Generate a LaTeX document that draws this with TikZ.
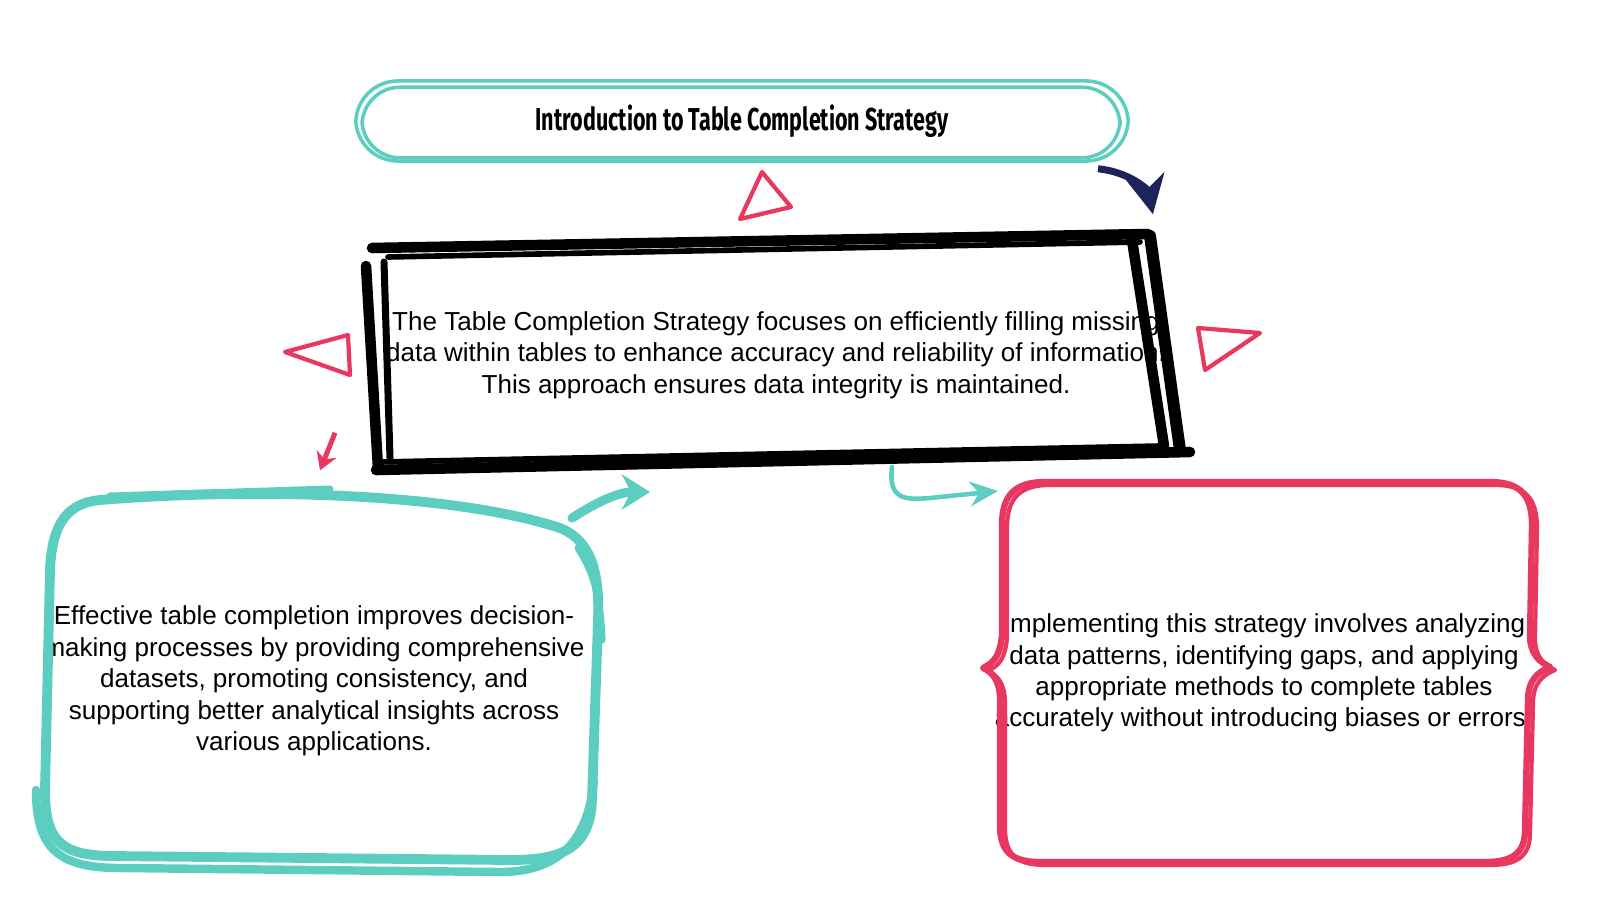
\documentclass[tikz,border=0pt]{standalone}
\usepackage{fontspec}
\setmainfont{Liberation Sans}
\newfontfamily\titlefont{Fira Sans}
\usetikzlibrary{arrows.meta,calc}
\definecolor{teal}{RGB}{92,206,192}
\definecolor{rose}{RGB}{232,56,95}
\definecolor{navy}{RGB}{30,36,90}
\tikzset{
  body/.style={align=center, font=\fontsize{7.4}{8.94}\selectfont, inner sep=0pt},
  tealline/.style={draw=teal, line cap=round, line join=round},
  roseline/.style={draw=rose, line cap=round, line join=round},
  inkline/.style={draw=black, line width=3pt, line cap=round, line join=round},
  pointer/.style={rose, line width=1.2pt, line join=round}
}
\begin{document}
\begin{tikzpicture}[x=0.01cm, y=-0.01cm]
    \useasboundingbox (0,0) rectangle (1600,900);

    % title pill
    \node [tealline, line width=1pt, rounded corners=0.42cm, minimum width=7.72cm,
           minimum height=0.8cm] (title) at (742,121)
        {\scalebox{0.68}[1]{\titlefont\bfseries\fontsize{9}{11}\selectfont Introduction to Table Completion Strategy}};
    \draw [tealline, line width=1pt, rounded corners=0.38cm]
        ($(title.south west)+(8,-5)$) rectangle ($(title.north east)+(-10,8)$);

    % main box text, border drawn over it
    \node [body, minimum width=7.9cm, minimum height=2.2cm] (core) at (776,355)
        {The Table Completion Strategy focuses on efficiently filling missing\\
         data within tables to enhance accuracy and reliability of information.\\
         This approach ensures data integrity is maintained.};
    \draw [inkline] (372,248) -- (1148,234);            % top
    \draw [inkline, line width=1.6pt] (388,257) -- (1140,242);
    \draw [inkline] (366,266) -- (378,468);             % left
    \draw [inkline, line width=2pt] (384,262) -- (390,458);
    \draw [inkline] (1132,240) -- (1164,446);           % right
    \draw [inkline, line width=3.4pt] (1150,236) -- (1180,450);
    \draw [inkline] (376,470) -- (1190,452);            % bottom
    \draw [inkline, line width=1.6pt] (380,462) -- (1160,446);

    % lower left box
    \node [body] (benefit) at (314,681)
        {Effective table completion improves decision-\\
         making processes by providing comprehensive\\
         datasets, promoting consistency, and\\
         supporting better analytical insights across\\
         various applications.};
    \draw [tealline, line width=2.8pt] (100,500) .. controls (250,488) and (450,492) .. (560,528)
        .. controls (590,540) and (600,570) .. (598,620) -- (592,800)
        .. controls (590,850) and (560,860) .. (510,860) -- (110,856)
        .. controls (60,855) and (45,840) .. (45,790) -- (50,570)
        .. controls (52,520) and (70,503) .. (100,500);
    \draw [tealline, line width=2.4pt] (36,790) .. controls (36,850) and (60,868) .. (120,868)
        -- (500,872) .. controls (560,872) and (588,840) .. (594,780);
    \draw [tealline, line width=2pt] (110,496) -- (330,489);
    \draw [tealline, line width=2pt] (578,548) .. controls (592,570) and (600,590) .. (602,640);

    % lower right box
    \node [body] (method) at (1264,673)
        {Implementing this strategy involves analyzing\\
         data patterns, identifying gaps, and applying\\
         appropriate methods to complete tables\\
         accurately without introducing biases or errors.};
    \foreach \dx/\dy/\w in {0/0/1.8, 5/3/1.2} {
      \draw [roseline, line width=\w pt, shift={(\dx,\dy)}] (1045,482) -- (1490,482)
          .. controls (1520,482) and (1532,495) .. (1532,525) -- (1530,635)
          .. controls (1530,655) and (1540,662) .. (1550,667)
          .. controls (1538,672) and (1528,680) .. (1528,700) -- (1525,830)
          .. controls (1525,855) and (1510,862) .. (1485,862) -- (1040,862)
          .. controls (1010,862) and (1000,850) .. (1000,825) -- (1000,700)
          .. controls (1000,680) and (992,672) .. (983,668)
          .. controls (995,662) and (1000,655) .. (1002,635) -- (1002,525)
          .. controls (1002,495) and (1015,482) .. (1045,482) -- cycle;
    }

    % red pointers
    \draw [pointer] (762,172) -- (740,219) -- (791,207) -- cycle;   % up
    \draw [pointer] (285,352) -- (348,335) -- (350,375) -- cycle;   % left
    \draw [pointer] (1198,328) -- (1260,333) -- (1205,370) -- cycle; % right

    % arrows between boxes
    \draw [navy, line width=2pt, -{Stealth[length=11pt, width=11pt]}]
        ($(title.south east)+(-32,6)$) .. controls (1130,172) and (1148,190) .. ($(core.north east)+(-19,-30)$);
    \draw [rose, line width=1.4pt, -{Stealth[length=5pt, width=6pt]}]
        ($(core.south west)+(-45,-33)$) -- ($(benefit.north)+(6,-135)$);
    \draw [teal, line width=2.6pt, line cap=round, -{Stealth[length=8pt, width=10pt]}]
        (572,518) .. controls (600,500) and (620,492) .. (650,492);
    \draw [teal, line width=1.3pt, line cap=round, -{Stealth[length=8pt, width=7pt]}]
        (892,467) .. controls (888,500) and (905,500) .. (930,498) -- (998,491);
\end{tikzpicture}
\end{document}
